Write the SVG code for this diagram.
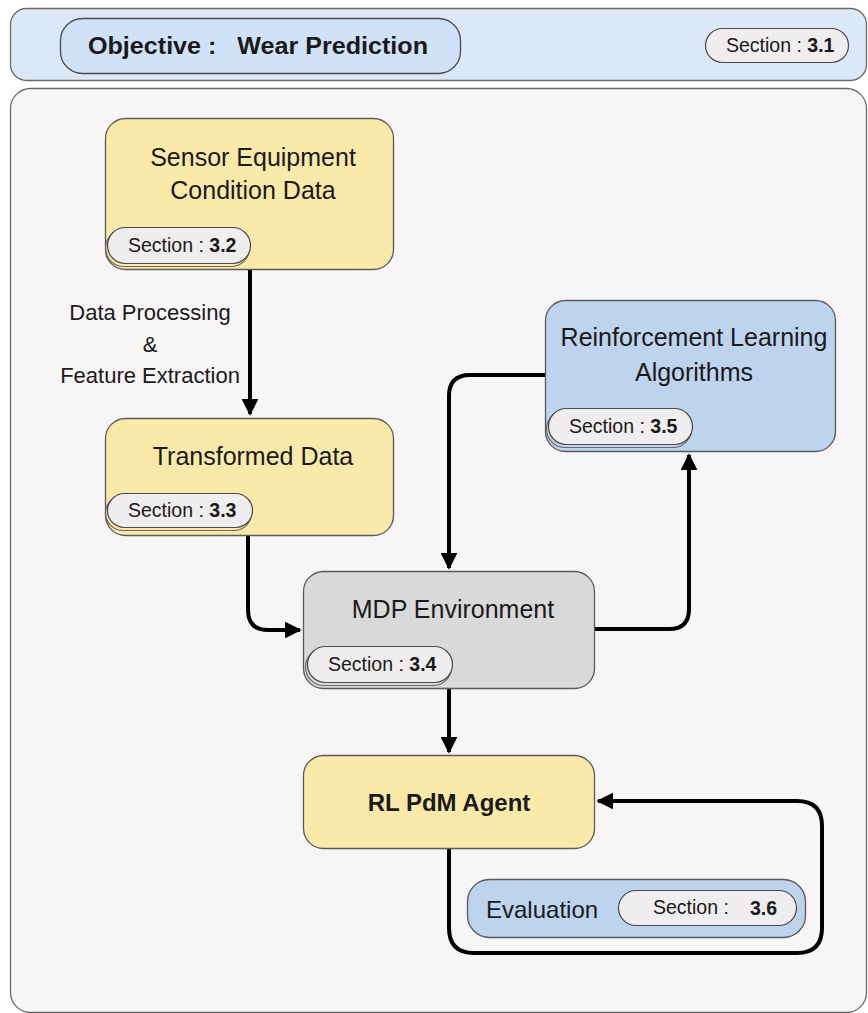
<svg xmlns="http://www.w3.org/2000/svg" width="868" height="1013" viewBox="0 0 868 1013">
  <style>
    text { font-family: "Liberation Sans", Arial, sans-serif; fill: #1a1a1a; }
    .box { stroke: #5a5a5a; stroke-width: 1.3; }
    .yellow { fill: #fbe9a9; }
    .blue { fill: #bdd3ee; }
    .grey { fill: #d9d9d9; }
    .pill { fill: #efeded; stroke: #4a4a4a; stroke-width: 1.2; }
    .pillshadow { fill: none; stroke: #6a6a6a; stroke-width: 1.2; }
    .title { font-size: 25px; text-anchor: middle; }
    .sec { font-size: 19.5px; }
    .b { font-weight: bold; }
    .wire { fill: none; stroke: #000; stroke-width: 4; stroke-linejoin: round; }
  </style>
  <defs>
    <marker id="arrow" viewBox="0 0 10 10" refX="9" refY="5" markerWidth="4.2" markerHeight="4.2" orient="auto" markerUnits="strokeWidth">
      <path d="M0,0 L10,5 L0,10 z" fill="#000"/>
    </marker>
  </defs>

  <rect width="868" height="1013" fill="#ffffff"/>

  <!-- header band -->
  <g id="header">
    <rect x="10.5" y="8.5" width="856" height="72" rx="16" fill="#dce8f7" stroke="#6a6a6a" stroke-width="1.3"/>
    <rect x="60.5" y="18.5" width="400" height="55" rx="22" fill="#cfe2f8" stroke="#4a4a4a" stroke-width="1.3"/>
    <text x="88" y="54" font-size="24" class="b" textLength="340" lengthAdjust="spacingAndGlyphs" xml:space="preserve">Objective :   Wear Prediction</text>
    <rect x="705.5" y="28.5" width="143" height="34" rx="17" class="pill"/>
    <text x="726" y="52" class="sec">Section : <tspan class="b">3.1</tspan></text>
  </g>

  <!-- main panel -->
  <g id="panel">
    <rect x="10.5" y="88.5" width="856" height="924" rx="20" fill="#f7f5f6" stroke="#6a6a6a" stroke-width="1.3"/>
  </g>

  <!-- connectors -->
  <g id="connectors">
    <path class="wire" d="M250,270 L250,414" marker-end="url(#arrow)"/>
    <path class="wire" d="M248,536 L248,610 Q248,630 268,630 L300,630" marker-end="url(#arrow)"/>
    <path class="wire" d="M545,375 L470,375 Q449,375 449,396 L449,568" marker-end="url(#arrow)"/>
    <path class="wire" d="M595,629 L669,629 Q689,629 689,609 L689,455" marker-end="url(#arrow)"/>
    <path class="wire" d="M449,689 L449,752" marker-end="url(#arrow)"/>
    <path class="wire" d="M449,849 L449,928 Q449,953 474,953 L797,953 Q822,953 822,928 L822,826 Q822,801 797,801 L598,801" marker-end="url(#arrow)"/>
  </g>

  <g id="label-processing">
    <text x="150" y="320" font-size="22" text-anchor="middle">Data Processing</text>
    <text x="150" y="352" font-size="22" text-anchor="middle">&amp;</text>
    <text x="150" y="383" font-size="22" text-anchor="middle">Feature Extraction</text>
  </g>

  <g id="sensor-data">
    <rect x="105.5" y="118.5" width="288" height="151" rx="20" class="box yellow"/>
    <text x="253" y="166" class="title">Sensor Equipment</text>
    <text x="253" y="199" class="title">Condition Data</text>
    <rect x="105.5" y="229.5" width="144" height="37" rx="18.5" class="pillshadow"/>
    <rect x="107.5" y="227.5" width="143" height="36" rx="18" class="pill"/>
    <text x="128" y="252" class="sec">Section : <tspan class="b">3.2</tspan></text>
  </g>

  <g id="transformed-data">
    <rect x="105.5" y="418.5" width="288" height="117" rx="20" class="box yellow"/>
    <text x="253" y="465" class="title">Transformed Data</text>
    <rect x="105.5" y="495.5" width="146" height="35" rx="17.5" class="pillshadow"/>
    <rect x="107.5" y="493.5" width="145" height="34" rx="17" class="pill"/>
    <text x="128" y="517" class="sec">Section : <tspan class="b">3.3</tspan></text>
  </g>

  <g id="rl-algorithms">
    <rect x="545.5" y="300.5" width="290" height="151" rx="20" class="box blue"/>
    <text x="694" y="346" class="title">Reinforcement Learning</text>
    <text x="694" y="381" class="title">Algorithms</text>
    <rect x="546.5" y="410.5" width="145" height="37" rx="18.5" class="pillshadow"/>
    <rect x="548.5" y="408.5" width="144" height="36" rx="18" class="pill"/>
    <text x="569" y="433" class="sec">Section : <tspan class="b">3.5</tspan></text>
  </g>

  <g id="mdp-environment">
    <rect x="303.5" y="571.5" width="291" height="117" rx="20" class="box grey"/>
    <text x="453" y="618" class="title">MDP Environment</text>
    <rect x="305.5" y="648.5" width="146" height="37" rx="18.5" class="pillshadow"/>
    <rect x="307.5" y="646.5" width="145" height="36" rx="18" class="pill"/>
    <text x="328" y="671" class="sec">Section : <tspan class="b">3.4</tspan></text>
  </g>

  <g id="rl-pdm-agent">
    <rect x="303.5" y="755.5" width="291" height="93" rx="20" class="box yellow"/>
    <text x="449" y="811" font-size="24" text-anchor="middle" class="b">RL PdM Agent</text>
  </g>

  <g id="evaluation">
    <rect x="467.5" y="879.5" width="338" height="58" rx="22" class="box blue"/>
    <text x="486" y="918" font-size="24">Evaluation</text>
    <rect x="618.5" y="890.5" width="178" height="35" rx="17.5" class="pill"/>
    <text x="653" y="914" class="sec">Section :</text>
    <text x="750" y="915" class="sec b">3.6</text>
  </g>
</svg>
